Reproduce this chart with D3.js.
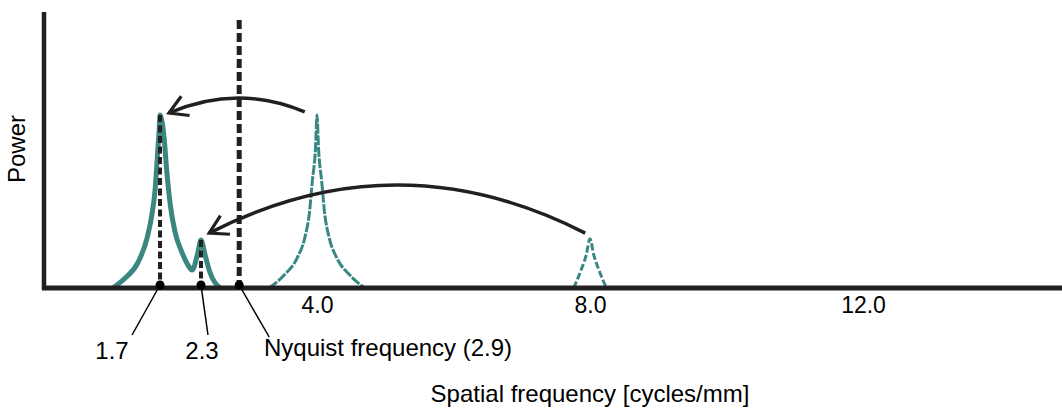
<!DOCTYPE html>
<html>
<head>
	<meta charset="utf-8">
	<script src="https://cdnjs.cloudflare.com/ajax/libs/d3/7.8.5/d3.min.js"></script>
	<style>
		body { margin: 0; background: #fff; }
		svg { display: block; }
	</style>
</head>
<body>
	<div id="viz"></div>

	<script type="text/javascript">

	// aliased spectrum (solid): [cycles/mm, power]
	var aliasedCurve = [
		[1.01, 0], [1.19, 0.36], [1.38, 0.94], [1.51, 1.81], [1.58, 2.64], [1.63, 3.62],
		[1.66, 4.71], [1.685, 5.65], [1.70, 6.27], [1.76, 5.43], [1.80, 4.20], [1.85, 3.01],
		[1.92, 2.03], [2.02, 1.30], [2.11, 0.83], [2.17, 0.65], [2.256, 1.30], [2.30, 1.74],
		[2.36, 1.20], [2.43, 0.58], [2.58, 0]
	];

	// original peaks above Nyquist (dashed)
	var peak4 = [
		[3.30, 0], [3.52, 0.47], [3.71, 1.09], [3.82, 1.81], [3.89, 2.75], [3.93, 3.84],
		[3.978, 5.07], [4.0, 6.27], [4.022, 5.07], [4.07, 3.84], [4.11, 2.75], [4.18, 1.81],
		[4.29, 1.09], [4.48, 0.47], [4.70, 0]
	];
	var peak8 = [
		[7.76, 0], [7.88, 0.72], [7.945, 1.20], [8.0, 1.78], [8.055, 1.20], [8.12, 0.72], [8.24, 0]
	];

	// alias markers on the axis
	var markerFreqs = [1.7, 2.3, 2.86];
	var markerHeights = [6.27, 1.74, 9.71];
	var markerLabels = ["1.7", "2.3", "Nyquist frequency (2.9)"];

	// arrows: from original peak to aliased peak [x, y] + control point
	var arrowFrom = [[3.82, 6.38], [7.93, 1.99]];
	var arrowCtrl = [[2.83, 7.41], [5.17, 5.47]];
	var arrowTo = [[1.83, 6.34], [2.42, 1.99]];

	var tickValues = [4, 8, 12];
	var xLabel = "Spatial frequency [cycles/mm]";
	var yLabel = "Power";

	var width = 1062;
	var height = 409;
	var ink = "#231f20";
	var teal = "#3a8782";
	var font = "'Liberation Sans', Arial, sans-serif";

	var x = d3.scaleLinear().domain([0, 15]).range([44, 44 + 15 * 68.25]);
	var y = d3.scaleLinear().domain([0, 10]).range([288, 12]);

	var svg = d3.select("#viz")
		.append("svg")
		.attr("width", width)
		.attr("height", height)
		.style("font-family", font);

	svg.append("defs")
		.append("marker")
		.attr("id", "head")
		.attr("markerUnits", "userSpaceOnUse")
		.attr("viewBox", "-22 -14 26 28")
		.attr("markerWidth", 26)
		.attr("markerHeight", 28)
		.attr("refX", 0)
		.attr("refY", 0)
		.attr("orient", "auto")
		.append("path")
		.attr("d", "M-18,-10.5L0,0L-18,10.5")
		.attr("fill", "none")
		.attr("stroke", ink)
		.attr("stroke-width", 3.2);

	var line = d3.line()
		.x(d => x(d[0]))
		.y(d => y(d[1]))
		.curve(d3.curveMonotoneX);

	// dashed original peaks
	svg.append("path")
		.datum(peak4)
		.attr("d", line)
		.attr("fill", "none")
		.attr("stroke", teal)
		.attr("stroke-width", 3)
		.attr("stroke-dasharray", "10,1.5");

	svg.append("path")
		.datum(peak8)
		.attr("d", line)
		.attr("fill", "none")
		.attr("stroke", teal)
		.attr("stroke-width", 3)
		.attr("stroke-dasharray", "7,2.5");

	// solid aliased spectrum
	svg.append("path")
		.datum(aliasedCurve)
		.attr("d", line)
		.attr("fill", "none")
		.attr("stroke", teal)
		.attr("stroke-width", 5)
		.attr("stroke-linejoin", "round");

	// vertical dashed markers
	svg.selectAll(".vline")
		.data(markerFreqs)
		.enter().append("line")
		.attr("class", "vline")
		.attr("x1", d => x(d))
		.attr("x2", d => x(d))
		.attr("y1", (d, i) => y(markerHeights[i]))
		.attr("y2", y(0))
		.attr("stroke", ink)
		.attr("stroke-width", (d, i) => i == 2 ? 5 : 4)
		.attr("stroke-dasharray", (d, i) => i == 2 ? "9,4" : "7,3.5");

	// axes
	svg.append("line")
		.attr("x1", x(0))
		.attr("x2", x(0))
		.attr("y1", y(10))
		.attr("y2", y(0) + 2)
		.attr("stroke", ink)
		.attr("stroke-width", 4.5);

	svg.append("line")
		.attr("x1", x(0) - 2)
		.attr("x2", width)
		.attr("y1", y(0))
		.attr("y2", y(0))
		.attr("stroke", ink)
		.attr("stroke-width", 5);

	var xAxis = svg.append("g")
		.attr("transform", "translate(0," + y(0) + ")")
		.call(d3.axisBottom(x).tickValues(tickValues).tickSize(0).tickPadding(9).tickFormat(d3.format(".1f")));
	xAxis.select(".domain").remove();
	xAxis.selectAll("text")
		.style("font-family", font)
		.style("font-size", "23px")
		.attr("fill", "#000");

	// arrows
	svg.selectAll(".arrow")
		.data(arrowFrom)
		.enter().append("path")
		.attr("class", "arrow")
		.attr("d", (d, i) => {
			var p = d3.path();
			p.moveTo(x(d[0]), y(d[1]));
			p.quadraticCurveTo(x(arrowCtrl[i][0]), y(arrowCtrl[i][1]), x(arrowTo[i][0]), y(arrowTo[i][1]));
			return p.toString();
		})
		.attr("fill", "none")
		.attr("stroke", ink)
		.attr("stroke-width", 3.5)
		.attr("marker-end", "url(#head)");

	// dots, leaders and labels
	var leadDx = [-28, 7, 30];
	var labelX = [112, 202, 264];
	var labelY = [359, 359, 356];
	var anchors = ["middle", "middle", "start"];

	svg.selectAll(".leader")
		.data(markerFreqs)
		.enter().append("line")
		.attr("class", "leader")
		.attr("x1", d => x(d))
		.attr("y1", y(0) - 3)
		.attr("x2", (d, i) => x(d) + leadDx[i])
		.attr("y2", (d, i) => i == 2 ? 337 : 335)
		.attr("stroke", "#000")
		.attr("stroke-width", 1.5);

	svg.selectAll(".dot")
		.data(markerFreqs)
		.enter().append("circle")
		.attr("class", "dot")
		.attr("cx", d => x(d))
		.attr("cy", y(0) - 3)
		.attr("r", 4.5)
		.attr("fill", "#000");

	svg.selectAll(".mlabel")
		.data(markerLabels)
		.enter().append("text")
		.attr("class", "mlabel")
		.attr("x", (d, i) => labelX[i])
		.attr("y", (d, i) => labelY[i])
		.attr("text-anchor", (d, i) => anchors[i])
		.style("font-size", "24px")
		.text(d => d);

	svg.append("text")
		.attr("x", 590)
		.attr("y", 402)
		.attr("text-anchor", "middle")
		.style("font-size", "24px")
		.text(xLabel);

	svg.append("text")
		.attr("transform", "translate(25,149) rotate(-90)")
		.attr("text-anchor", "middle")
		.style("font-size", "24px")
		.text(yLabel);

	</script>
</body>
</html>
